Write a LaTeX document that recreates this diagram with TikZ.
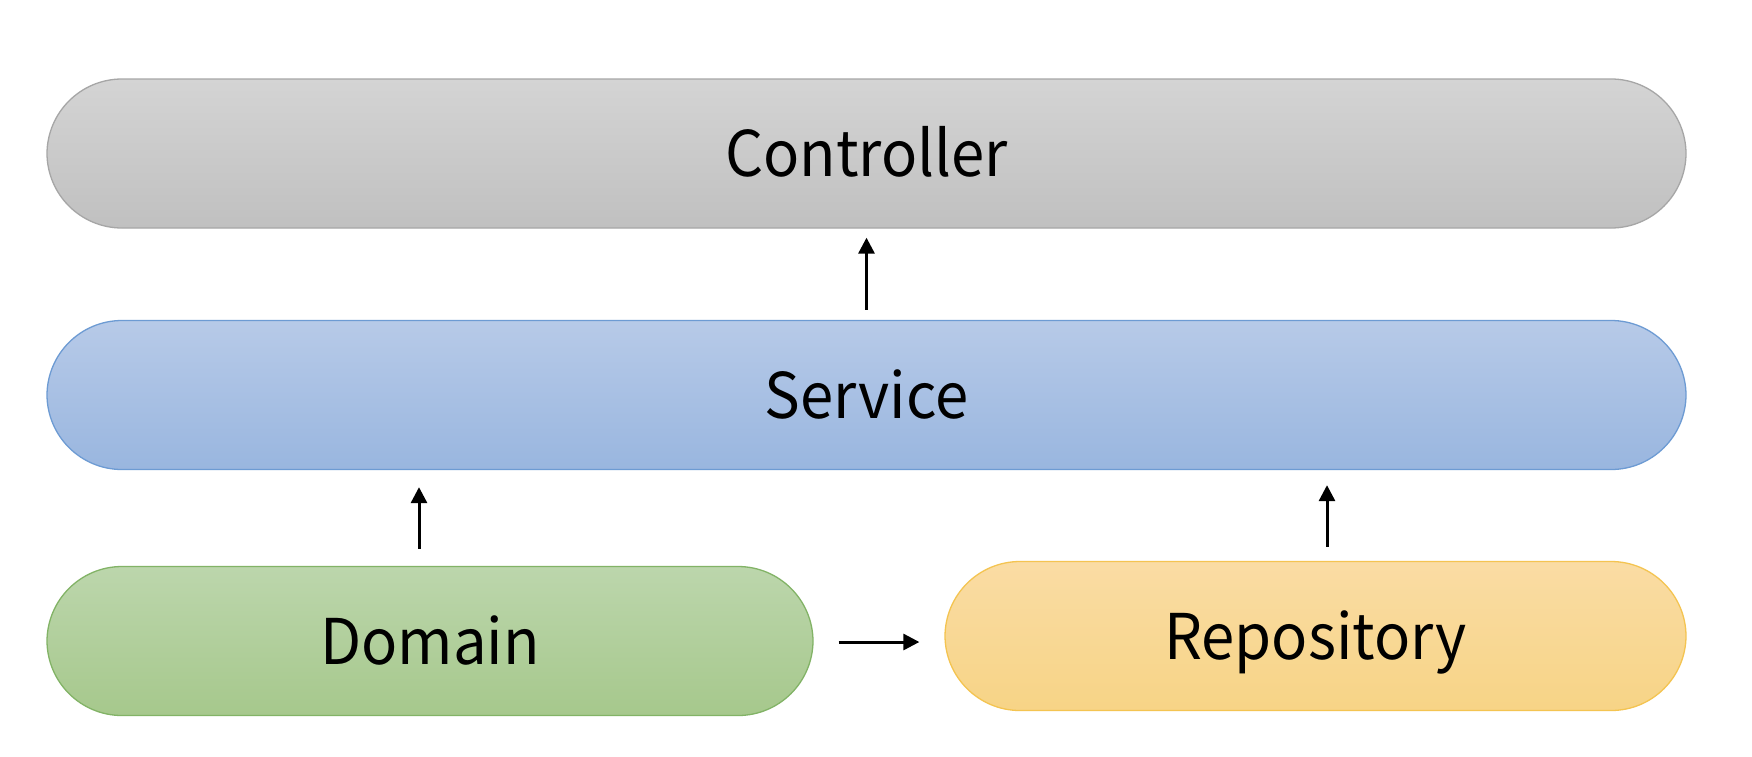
\documentclass[tikz,border=0pt]{standalone}
\usepackage{fontspec}
\setmainfont[FakeStretch=0.95]{Noto Sans CJK KR}
\usetikzlibrary{arrows.meta}
\definecolor{ctrlT}{HTML}{D4D4D4}
\definecolor{ctrlB}{HTML}{C0C0C0}
\definecolor{ctrlD}{HTML}{A6A6A6}
\definecolor{svcT}{HTML}{B7CAE8}
\definecolor{svcB}{HTML}{99B6DF}
\definecolor{svcD}{HTML}{6D9BD3}
\definecolor{domT}{HTML}{BCD6AC}
\definecolor{domB}{HTML}{A6C88C}
\definecolor{domD}{HTML}{82B366}
\definecolor{repT}{HTML}{FADCA4}
\definecolor{repB}{HTML}{F7D486}
\definecolor{repD}{HTML}{F4C451}
\begin{document}
\begin{tikzpicture}[x=1pt,y=-1pt,
  layer/.style={draw, line width=1.3pt, rounded corners=75pt, minimum height=149pt,
    inner sep=0pt, text height=46pt, text depth=0pt,
    font=\fontsize{63}{70}\selectfont},
  arr/.style={line width=3pt, -{Triangle[length=16pt,width=16pt]}}]
\useasboundingbox (0,0) rectangle (1752,756);
\fill[white] (0,0) rectangle (1752,756);
\node[layer, minimum width=1639pt, top color=ctrlT, bottom color=ctrlB, draw=ctrlD] (ctrl) at (866.5,153.5) {Controller};
\node[layer, minimum width=1639pt, top color=svcT, bottom color=svcB, draw=svcD] (svc) at (866.5,395) {Service};
\node[layer, minimum width=766pt, top color=domT, bottom color=domB, draw=domD] (dom) at (430,641) {Domain};
\node[layer, minimum width=741pt, top color=repT, bottom color=repB, draw=repD] (repo) at (1315.5,636) {Repository};
\draw[arr] ([yshift=10pt]svc.north) -- ([yshift=-9pt]ctrl.south);
\draw[arr] ([xshift=-11pt,yshift=17pt]dom.north) -- ([xshift=-11pt,yshift=-17pt]dom.north |- svc.south);
\draw[arr] ([xshift=11.5pt,yshift=14pt]repo.north) -- ([xshift=11.5pt,yshift=-15pt]repo.north |- svc.south);
\draw[arr] ([xshift=25pt,yshift=-1pt]dom.east) -- ([xshift=-25pt,yshift=-1pt]repo.west |- dom.east);
\end{tikzpicture}
\end{document}
